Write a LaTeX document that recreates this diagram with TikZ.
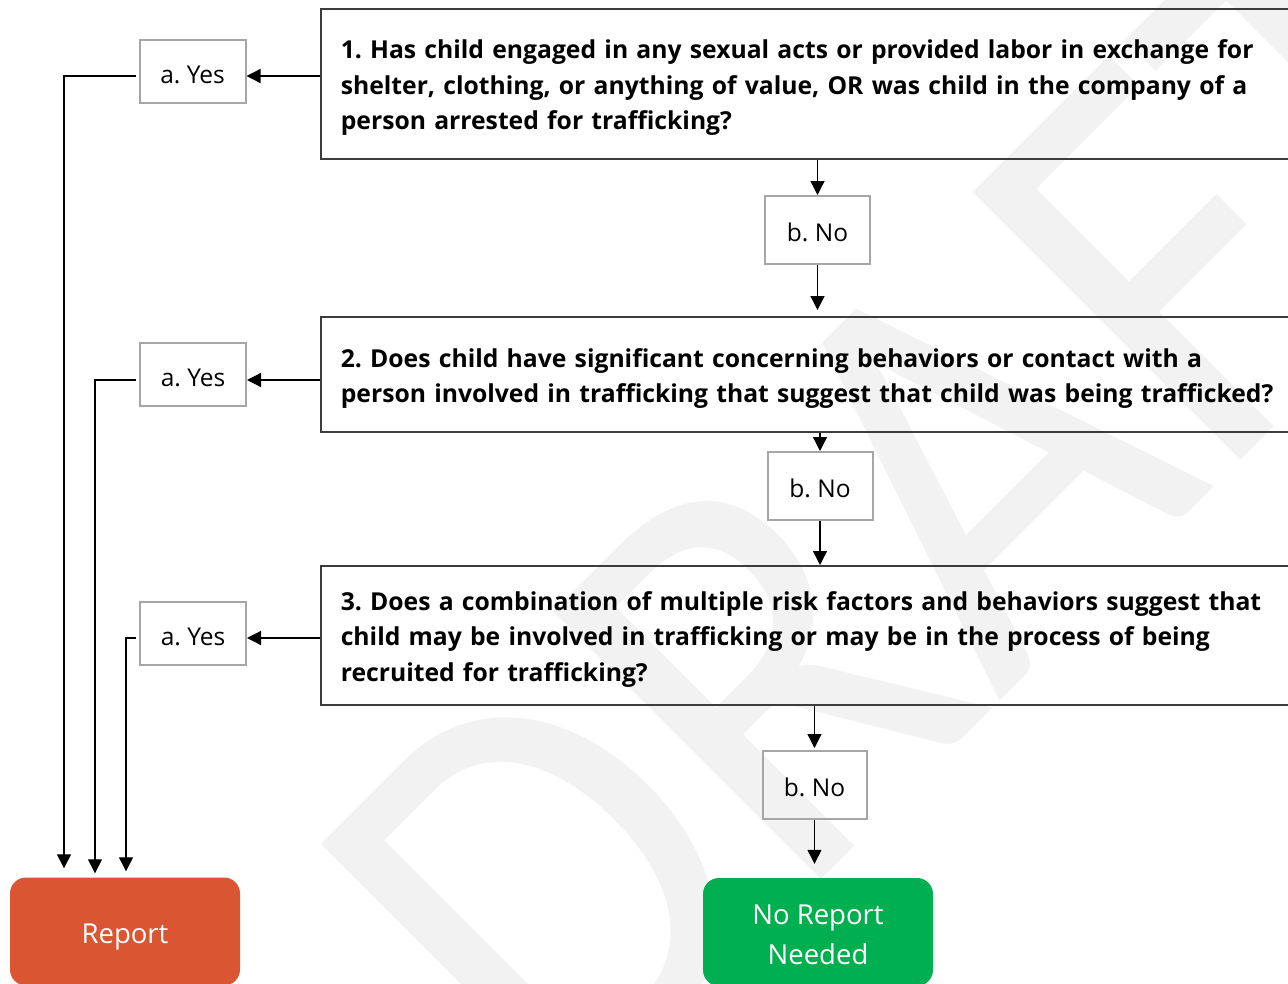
\documentclass[tikz,border=0pt]{standalone}
\usepackage{fontspec}
\setmainfont{Open Sans}
\newfontfamily\wmfont[FakeStretch=0.9]{Carlito}
\usetikzlibrary{arrows.meta,calc}
\definecolor{qborder}{HTML}{3C3C3C}
\definecolor{optborder}{HTML}{A6A6A6}
\definecolor{reportred}{HTML}{DA5632}
\definecolor{okgreen}{HTML}{00B050}
\definecolor{wmgray}{HTML}{F2F2F2}
\begin{document}
\frenchspacing
\begin{tikzpicture}[x=1pt,y=-1pt,
  qbox/.style={draw=qborder, line width=1.6pt, anchor=north west,
    inner xsep=20pt, inner ysep=0pt, minimum width=990pt, text width=950pt,
    text height=27pt, align=left, font=\bfseries\fontsize{24.7}{35.5}\selectfont},
  optbox/.style={draw=optborder, line width=2pt, inner sep=0pt,
    minimum width=106pt, minimum height=63pt, text height=23pt, text depth=0pt,
    font=\fontsize{24.5}{30}\selectfont},
  endbox/.style={rounded corners=16pt, inner sep=0pt, minimum width=230pt,
    minimum height=108pt, text=white, align=center,
    font=\fontsize{27.5}{40}\selectfont},
  arr/.style={line width=1.3pt, -{Triangle[length=14pt,width=14pt]}},
]
\useasboundingbox (0,0) rectangle (1288,983);
\clip (0,0) rectangle (1288,983);

% watermark
\node[text=wmgray, rotate=45, anchor=base west, inner sep=0pt,
  font=\wmfont\fontsize{590}{600}\selectfont] (wm) at (563.5,1137.5) {DRAFT};

% questions
\node[qbox, minimum height=150pt] (q1) at (320,8)
  {1. Has child engaged in any sexual acts or provided labor in exchange for\\
   shelter, clothing, or anything of value, OR was child in the company of a\\
   person arrested for trafficking?};
\node[qbox, minimum height=115pt] (q2) at (320,316)
  {2. Does child have significant concerning behaviors or contact with a\\
   person involved in trafficking that suggest that child was being trafficked?};
\node[qbox, minimum height=139pt] (q3) at (320,565)
  {3. Does a combination of multiple risk factors and behaviors suggest that\\
   child may be involved in trafficking or may be in the process of being\\
   recruited for trafficking?};

% answers
\node[optbox] (yes1) at (192.5,71.5) {a. Yes};
\node[optbox] (yes2) at (193,374.5) {a. Yes};
\node[optbox] (yes3) at (193,633.5) {a. Yes};
\node[optbox, minimum width=105pt, minimum height=68pt] (no1) at (817.5,230) {b. No};
\node[optbox, minimum width=105pt, minimum height=68pt] (no2) at (820,486) {b. No};
\node[optbox, minimum width=104pt, minimum height=68pt] (no3) at (814.5,785) {b. No};

% outcomes
\node[endbox, fill=reportred, text height=24pt, text depth=0pt] (report) at (125,931.5) {Report};
\node[endbox, fill=okgreen, text height=64pt, text depth=0pt] (noreport) at (818,932) {No Report\\Needed};

% connector rows and columns
\coordinate (r1) at (0,76);
\coordinate (r2) at (0,380);
\coordinate (r3) at (0,638);
\coordinate (c1) at (64,0);
\coordinate (c2) at (95,0);
\coordinate (c3) at (126,0);

% yes branches
\draw[arr] (q1.west |- r1) -- (yes1.east |- r1);
\draw[arr] (q2.west |- r2) -- (yes2.east |- r2);
\draw[arr] (q3.west |- r3) -- (yes3.east |- r3);
\draw[arr, shorten >=9pt] ($(yes1.west |- r1)+(-3,0)$) -| (c1 |- report.north);
\draw[arr, shorten >=4pt] ($(yes2.west |- r2)+(-3,0)$) -| (c2 |- report.north);
\draw[arr, shorten >=6pt] ($(yes3.west |- r3)+(-3,0)$) -| (c3 |- report.north);

% no branches
\draw[arr] (no1 |- q1.south) -- (no1.north);
\draw[arr, shorten >=6pt] (no1.south) -- (no1 |- q2.north);
\draw[arr] (no2 |- q2.south) -- (no2.north);
\draw[arr] (no2.south) -- (no2 |- q3.north);
\draw[arr, shorten >=2pt] (no3 |- q3.south) -- (no3.north);
\draw[arr, shorten >=14pt] (no3.south) -- (no3 |- noreport.north);
\end{tikzpicture}
\end{document}
